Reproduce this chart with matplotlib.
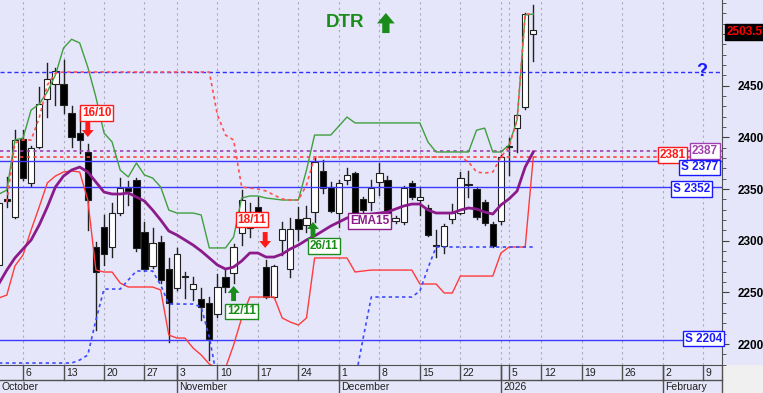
import numpy as np
import matplotlib.pyplot as plt
from matplotlib.patches import Rectangle

# daily candles, index 0 = 1 October (trading days only)
opens = [2276.5, 2340, 2323, 2398.5, 2356, 2391, 2437, 2451.7, 2451.7, 2423.6,
         2404, 2386, 2294, 2313, 2294, 2327, 2351, 2358.8, 2308, 2275.5,
         2298.7, 2272.6, 2254, 2265.5, 2253, 2243.6, 2239.7, 2229, 2264.9, 2268.7,
         2307.5, 2312, 2332.6, 2274.5, 2245.5, 2300.7, 2272.6, 2321, 2315, 2327.8,
         2367.5, 2352, 2327, 2358.8, 2365.5, 2340, 2337.5, 2356.8, 2358.8, 2319,
         2318, 2356, 2339.4, 2331.6, 2295.8, 2295, 2321, 2326.8, 2355, 2350,
         2337.5, 2316, 2319, 2392, 2409, 2429.4, 2500]
highs = [2340, 2362, 2407, 2407, 2392, 2449, 2472, 2467, 2475, 2430,
         2426.5, 2393.6, 2299, 2325, 2336.5, 2360.7, 2358, 2361, 2318, 2312,
         2304.5, 2283, 2293, 2269.7, 2265, 2254, 2245.5, 2267.8, 2271.6, 2297,
         2349, 2336.5, 2342, 2281, 2276.5, 2318, 2322, 2332.6, 2333.6, 2380,
         2378, 2357, 2359, 2370, 2366.5, 2342, 2358.8, 2375, 2362.6, 2324,
         2353, 2358, 2352, 2334.5, 2310, 2316, 2335.5, 2366.5, 2367.5, 2352,
         2339.4, 2318, 2383, 2399.4, 2422.6, 2520, 2528]
lows = [2270, 2333, 2322, 2359, 2353, 2390, 2420, 2431, 2423.6, 2391,
        2385, 2310, 2213.5, 2276.5, 2284, 2325, 2334.5, 2290, 2270.7, 2273.6,
        2259, 2202, 2252, 2244.5, 2242.6, 2223, 2184.5, 2226, 2250, 2259,
        2296, 2303.6, 2323, 2244.5, 2244.5, 2286, 2265, 2300.7, 2308, 2318,
        2346, 2328, 2313, 2355, 2325, 2313, 2329.7, 2344, 2323, 2317,
        2316, 2340, 2325, 2304.5, 2284, 2288, 2317, 2326, 2342, 2321,
        2315, 2294, 2316, 2363.6, 2386, 2427.5, 2474]
closes = [2336.5, 2338, 2397.5, 2360.7, 2390, 2432, 2456.5, 2464, 2431, 2400,
          2397.5, 2339, 2270, 2287, 2327, 2351, 2348, 2293, 2272.6, 2297.8,
          2262, 2239.7, 2287, 2264.5, 2258, 2235.8, 2205, 2255, 2255, 2294,
          2339, 2322, 2326.8, 2245.5, 2275.5, 2311, 2311, 2311, 2322, 2376,
          2351, 2329, 2356, 2363.6, 2327, 2330, 2351, 2365.5, 2325, 2322,
          2351, 2342, 2342.3, 2305.5, 2295.3, 2314, 2326.8, 2360.7, 2354, 2323,
          2317, 2295, 2381, 2391, 2421.7, 2519.4, 2503.5]

ema15 = [2258.1, 2271.6, 2283.3, 2292, 2300.7, 2315.2, 2332.6, 2352, 2362.6, 2368.4,
         2371.3, 2366.5, 2356.8, 2347.1, 2345.2, 2345.2, 2346.2, 2342.3, 2338.4, 2329.7,
         2320, 2309.4, 2305.5, 2300.7, 2295.8, 2290, 2283.3, 2276.5, 2272.6, 2274.5,
         2280.4, 2288.1, 2288.1, 2284.2, 2284.2, 2287.1, 2292, 2295.8, 2300.7, 2304.6,
         2309.4, 2314.2, 2318.1, 2322, 2323.9, 2324.9, 2325.8, 2326.8, 2327.8, 2330.7,
         2333.6, 2335.5, 2335.5, 2329.7, 2326.8, 2326.8, 2326.8, 2329.7, 2331.7, 2330.7,
         2327.8, 2325.8, 2334.6, 2340.4, 2348.1, 2371.3, 2385.9]
upper = [2345, 2349, 2397.5, 2399.4, 2426.5, 2432.3, 2444, 2460.4, 2486.5, 2495,
         2491.4, 2468, 2439, 2404.3, 2395.5, 2368.4, 2361.7, 2375.2, 2363.6, 2360.7,
         2352, 2329.7, 2326.8, 2326.8, 2326.8, 2324.9, 2293, 2293, 2293, 2303.6,
         2341.3, 2343.3, 2343.3, 2341.3, 2340.4, 2339.4, 2339.4, 2339.4, 2368.4, 2402.3,
         2402.3, 2402.3, 2411, 2419.7, 2414, 2414, 2414, 2414, 2414, 2414,
         2414, 2414, 2414, 2395.5, 2385.9, 2385.9, 2385.9, 2385.9, 2385.9, 2407,
         2409, 2385.9, 2385.9, 2392.6, 2416.8, 2518.5, 2519.4]
lower = [2244.5, 2247.4, 2275.5, 2286.2, 2310.4, 2332.6, 2355.9, 2362.6, 2366.5, 2367.5,
         2366.5, 2339.4, 2271.6, 2269.7, 2269.7, 2259, 2255.2, 2255.2, 2255.2, 2255.2,
         2252.3, 2208.7, 2205.8, 2205.8, 2196.1, 2189.4, 2180.6, 2176.8, 2176.8, 2199,
         2225.2, 2245.5, 2245.5, 2245.5, 2245.5, 2225.2, 2221.3, 2218.4, 2225.2, 2283.3,
         2283.3, 2283.3, 2283.3, 2283.3, 2269.7, 2270.7, 2271.6, 2271.6, 2271.6, 2271.6,
         2271.6, 2271.6, 2258.1, 2258.1, 2258.1, 2249.4, 2249.4, 2265.8, 2265.8, 2265.8,
         2265.8, 2265.8, 2288, 2293.9, 2293.9, 2293.9, 2381]
stop_high = [np.nan, 2337.5, 2394.6, 2397.5, 2397.5, 2418.8, 2450.7, 2462.3, 2463.3, 2463.3,
             2463.3, 2463.3, 2463.3, 2463.3, 2463.3, 2463.3, 2463.3, 2463.3, 2463.3, 2463.3,
             2463.3, 2463.3, 2463.3, 2463.3, 2463.3, 2463.3, 2463.3, 2421.7, 2402.3, 2397.5,
             2352, 2351, 2350, 2348.1, 2344.2, 2340.4, 2339.4, 2339.4, 2353.9, 2381,
             2381, 2381, 2381, 2381, 2381, 2381, 2381, 2381, 2381, 2381,
             2381, 2381, 2381, 2381, 2381, 2381, 2381, 2381, 2376.2, 2366.5,
             2365.5, 2366.5, 2381, 2390.7, 2416.8, 2519.4, 2519.4]
stop_low = [2181.6, 2181.6, 2181.6, 2181.6, 2181.6, 2181.6, 2181.6, 2181.6, 2181.6, 2181.6,
            2184.5, 2189.4, 2223.2, 2253.2, 2253.2, 2253.2, 2262, 2270.7, 2270.7, 2270.7,
            2257.1, 2238.7, 2238.7, 2238.7, 2238.7, 2235.8, 2206.8, 2165, 2165, 2165,
            2165, 2165, 2165, 2165, 2165, 2165, 2165, 2165, 2165, 2165,
            2165, 2165, 2165, 2165, 2165, 2205.8, 2245.5, 2245.5, 2245.5, 2245.5,
            2245.5, 2245.5, 2251.3, 2273.6, 2293.9, 2293.9, 2293.9, 2293.9, 2293.9, 2293.9,
            2293.9, 2293.9, 2293.9, 2293.9, 2293.9, 2293.9, 2293.9]

# weekly ticks (trading-day index) and month boundaries
week_idx = [3, 8, 13, 18, 22, 27, 32, 37, 42, 47, 52, 57, 62, 63, 67, 72, 77, 82, 87]
week_lbl = ['6', '13', '20', '27', '3', '10', '17', '24', '1', '8', '15', '22', '', '5',
            '12', '19', '26', '2', '9']
month_idx = [0, 22, 42, 62, 82]
month_lbl = ['October', 'November', 'December', '2026', 'February']

BG = '#e6e6fa'
FONT = 'Liberation Sans'
W, H = 763, 393

fig = plt.figure(figsize=(W / 100, H / 100), dpi=100)
fig.patch.set_facecolor(BG)
ax = fig.add_axes([0, 28 / H, 722 / W, 365 / H])
ax.set_facecolor(BG)
ax.set_xlim(0.16, 89.3)
ax.set_ylim(2179.7, 2533)

for t in week_idx:
    ax.axvline(t, color='#a9a9b8', lw=0.8, ls=(0, (2, 3)), zorder=0.5)

# candles
x = np.arange(len(opens))
for i in x:
    o, h, l, c = opens[i], highs[i], lows[i], closes[i]
    ax.plot([i, i], [l, h], color='#202020', lw=1, zorder=2)
    bot = min(o, c)
    ht = max(abs(c - o), 0.8)
    fc = 'white' if c >= o else 'black'
    ax.add_patch(Rectangle((i - 0.39, bot), 0.78, ht, facecolor=fc,
                           edgecolor='#202020', lw=0.8, zorder=2.5))

# horizontal levels
ax.axhline(2463.6, color='#3030ff', lw=1, ls=(0, (3, 2)), zorder=3)
ax.axhline(2387, color='#a040b0', lw=1.2, ls=(0, (2, 2)), zorder=3)
ax.axhline(2381, color='#ff4040', lw=1.2, ls=(0, (2, 2)), zorder=3)
for lv in [2377, 2352, 2204]:
    ax.axhline(lv, color='#3a3aff', lw=1, zorder=3)

# indicators
ax.plot(x, upper, color='#3f9f3f', lw=1, zorder=3)
ax.plot(x, lower, color='#ff3b3b', lw=1, zorder=3)
ax.plot(x, stop_high, color='#ff5050', lw=1.2, ls=(0, (2, 2)), zorder=3)
ax.plot(x, stop_low, color='#3b4bff', lw=1.2, ls=(0, (2, 2)), zorder=3)
ax.plot(x, ema15, color='#8b1a8b', lw=2, zorder=3.5)


def boxed(xp, yp, s, col, fs=8.5):
    ax.text(xp, yp, s, color=col, fontsize=fs, fontweight='bold', family=FONT,
            ha='center', va='center', zorder=5,
            bbox=dict(boxstyle='square,pad=0.15', fc='white', ec=col, lw=1))


def arrow(xp, y0, y1, col, ms=10):
    ax.annotate('', xy=(xp, y1), xytext=(xp, y0), zorder=5,
                arrowprops=dict(arrowstyle='simple,head_length=0.5,head_width=0.85,tail_width=0.35',
                                color=col, lw=0, shrinkA=0, shrinkB=0, mutation_scale=ms))


RED, GREEN, BLUE, PURPLE = '#ff1a1a', '#1a8c1a', '#1a1aff', '#8b1a8b'
boxed(12.1, 2423.6, '16/10', RED)
arrow(11, 2415, 2400.4, RED)
boxed(31.3, 2320.5, '18/11', RED)
arrow(32.9, 2308.4, 2293, RED)
boxed(30, 2231.5, '12/11', GREEN)
arrow(29, 2241.6, 2256.2, GREEN)
boxed(40.2, 2294.9, '26/11', GREEN)
arrow(38.8, 2303.6, 2318.1, GREEN)
boxed(45.8, 2319.1, 'EMA15', PURPLE)
boxed(87.2, 2386.7, '2387', '#a040b0')
boxed(83.2, 2383, '2381', RED)
boxed(86.5, 2370.9, 'S 2377', BLUE)
boxed(85.5, 2350, 'S 2352', BLUE)
boxed(87, 2205.3, 'S 2204', BLUE)

ax.text(42.8, 2511.2, 'DTR', color=GREEN, fontsize=13.5, fontweight='bold',
        family=FONT, ha='center', va='center', zorder=5)
arrow(47.8, 2501, 2520.4, GREEN, ms=15)
ax.text(86.8, 2463.8, '?', color=BLUE, fontsize=13, fontweight='bold',
        family=FONT, ha='center', va='center', zorder=5)

# right price axis
for s in ['left', 'top']:
    ax.spines[s].set_visible(False)
for s in ['right', 'bottom']:
    ax.spines[s].set_color('#505050')
ax.set_xticks([])
ax.yaxis.tick_right()
ax.set_yticks([2200, 2250, 2300, 2350, 2400, 2450])
ax.set_yticks(np.arange(2180, 2531, 10), minor=True)
ax.tick_params(axis='y', which='major', length=5, color='#404040', pad=6.5)
ax.tick_params(axis='y', which='minor', length=3, color='#404040')
for lab in ax.get_yticklabels():
    lab.set_fontweight('bold')
    lab.set_family(FONT)
    lab.set_fontsize(8.5)

fig.text(727 / W, 1 - 32 / H, '2503.5', color='red', fontsize=8.5, fontweight='bold',
         family=FONT, ha='left', va='center',
         bbox=dict(boxstyle='square,pad=0.15', fc='black', ec='black'))

# date axis (two rows)
ax2 = fig.add_axes([0, 0, 722 / W, 28 / H])
ax2.set_xlim(ax.get_xlim())
ax2.set_ylim(0, 28)
ax2.axis('off')
ax2.plot([0.16, 89.3], [13, 13], color='#505050', lw=1, clip_on=False)
ax2.plot([89.3, 89.3], [0, 28], color='#505050', lw=1, clip_on=False)
for t, s in zip(week_idx, week_lbl):
    ax2.plot([t, t], [13, 28], color='#505050', lw=1)
    ax2.text(t + 0.3, 20.5, s, fontsize=7.5, family=FONT, ha='left', va='center',
             color='#202020')
for t, s in zip(month_idx, month_lbl):
    if t > 0:
        ax2.plot([t, t], [0, 28], color='#505050', lw=1)
    ax2.text(t + 0.3, 6.5, s, fontsize=7.5, family=FONT, ha='left', va='center',
             color='#202020')

fig.patches.append(Rectangle((722 / W, 0), 41 / W, 28 / H, transform=fig.transFigure,
                             facecolor='#f0f0f0', edgecolor='none', zorder=-1))

fig.savefig('out.png', dpi=100, facecolor=fig.get_facecolor())
